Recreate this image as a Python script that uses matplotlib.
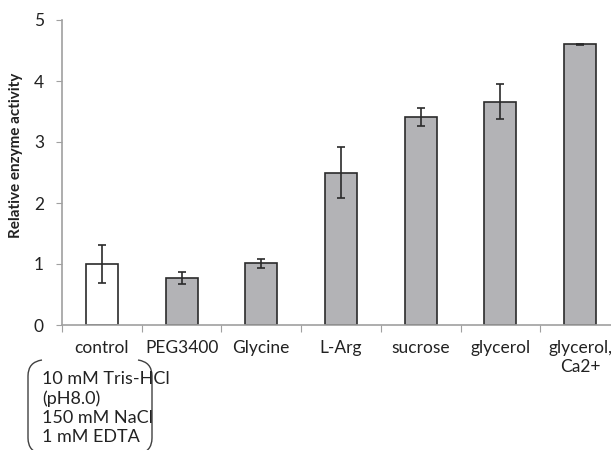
import matplotlib.pyplot as plt
from matplotlib.path import Path
from matplotlib.patches import PathPatch

categories = ["control", "PEG3400", "Glycine", "L-Arg", "sucrose", "glycerol", "glycerol,\nCa2+"]
values = [1.0, 0.77, 1.01, 2.50, 3.41, 3.66, 4.60]
errors = [0.31, 0.10, 0.08, 0.42, 0.14, 0.29, 0.005]
bar_colors = ["white", "#b3b3b6", "#b3b3b6", "#b3b3b6", "#b3b3b6", "#b3b3b6", "#b3b3b6"]
buffer_lines = ["10 mM Tris-HCl", "(pH8.0)", "150 mM NaCl", "1 mM EDTA"]

plt.rcParams['font.family'] = ['Lato', 'DejaVu Sans']

W, H = 611, 450


def fx(x):
    return x / W


def fy(y):
    return 1 - y / H


def main():
    fig = plt.figure(figsize=(W / 100, H / 100), dpi=100)
    ax = fig.add_axes([fx(62), fy(325), 558 / W, 305 / H])

    xs = list(range(len(categories)))
    ax.bar(xs, values, width=0.4, color=bar_colors, edgecolor="#2b2b2b", linewidth=1.2, zorder=2)
    ax.errorbar(xs, values, yerr=errors, fmt="none", ecolor="#2b2b2b",
                elinewidth=1.2, capsize=3, capthick=1.2, zorder=3)

    ax.set_xlim(-0.5, len(categories) - 0.5)
    ax.set_ylim(0, 5)
    ax.set_yticks([0, 1, 2, 3, 4, 5])

    ax.set_xticks([i - 0.5 for i in range(len(categories) + 1)])
    ax.set_xticklabels([])
    ax.set_xticks(xs, minor=True)
    ax.set_xticklabels(categories, minor=True)
    ax.tick_params(axis="x", which="major", length=5, color="#a0a0a0", direction="out")
    ax.tick_params(axis="x", which="minor", length=0, pad=11, labelsize=12.5, labelcolor="#222222")
    ax.tick_params(axis="y", length=4, color="#a0a0a0", pad=9, labelsize=12.5, labelcolor="#222222")

    for s in ["top", "right"]:
        ax.spines[s].set_visible(False)
    for s in ["left", "bottom"]:
        ax.spines[s].set_color("#a0a0a0")
        ax.spines[s].set_linewidth(1.2)

    ax.set_ylabel("Relative enzyme activity", fontsize=11, fontweight="bold", color="#222222")
    ax.yaxis.set_label_coords(fx(23 - 62) * W / 558, (325 - 155) / 305)

    # buffer composition note under the control label
    for i, line in enumerate(buffer_lines):
        fig.text(fx(42), fy(379 + i * 19.3), line, fontsize=13, color="#222222",
                 ha="left", va="center")

    left = Path([(fx(42), fy(360)), (fx(28), fy(362)), (fx(28), fy(376)),
                 (fx(28), fy(438)), (fx(28), fy(452)), (fx(42), fy(454))],
                [Path.MOVETO, Path.CURVE3, Path.CURVE3, Path.LINETO, Path.CURVE3, Path.CURVE3])
    right = Path([(fx(138), fy(360)), (fx(152), fy(362)), (fx(152), fy(376)),
                  (fx(152), fy(438)), (fx(152), fy(452)), (fx(138), fy(454))],
                 [Path.MOVETO, Path.CURVE3, Path.CURVE3, Path.LINETO, Path.CURVE3, Path.CURVE3])
    for p in (left, right):
        fig.add_artist(PathPatch(p, facecolor="none", edgecolor="#404040", lw=1.0,
                                 transform=fig.transFigure))

    fig.savefig("out.png", dpi=100)


if __name__ == "__main__":
    main()
